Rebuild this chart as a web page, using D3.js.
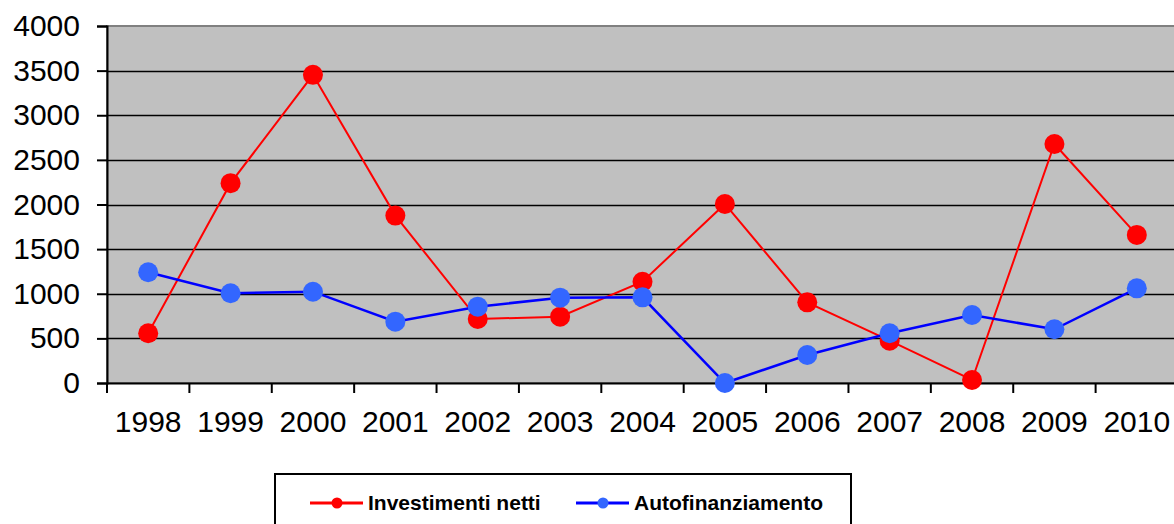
<!DOCTYPE html>
<html>
<head>
<meta charset="utf-8">
<script src="https://cdn.jsdelivr.net/npm/d3@7"></script>
<style>
  body { margin: 0; background: #fff; }
  svg { display: block; font-family: "Liberation Sans", Arial, sans-serif; }
</style>
</head>
<body>
<svg id="chart"></svg>
<script>
// Data

const years = ["1998", "1999", "2000", "2001", "2002", "2003", "2004",
               "2005", "2006", "2007", "2008", "2009", "2010"];
const investimenti = [557, 2239, 3453, 1876, 717, 743, 1135, 2006, 904, 474, 34, 2678, 1659];
const autofinanziamento = [1241, 1005, 1023, 687, 855, 956, 960, 0, 314, 557, 762, 602, 1061];
const yTicks = [0, 500, 1000, 1500, 2000, 2500, 3000, 3500, 4000];
const seriesNames = ["Investimenti netti", "Autofinanziamento"];

// Frame

const width = 1174;
const height = 524;
const plot = { left: 107, right: 1178, top: 26, bottom: 383 };

const svg = d3.select("#chart")
  .attr("width", width)
  .attr("height", height);

const x = d3.scaleBand()
  .domain(years)
  .range([plot.left, plot.right]);

const y = d3.scaleLinear()
  .domain([0, 4000])
  .range([plot.bottom, plot.top]);

// Plot background

svg.append("rect")
  .attr("x", plot.left)
  .attr("y", plot.top)
  .attr("width", plot.right - plot.left)
  .attr("height", plot.bottom - plot.top)
  .attr("fill", "#c0c0c0")
  .attr("stroke", "#808080")
  .attr("stroke-width", 2);

// Gridlines

svg.append("g").selectAll("line")
  .data(yTicks.filter(d => d > 0 && d < 4000))
  .enter()
  .append("line")
  .attr("x1", plot.left)
  .attr("x2", plot.right)
  .attr("y1", d => Math.round(y(d)) + 0.5)
  .attr("y2", d => Math.round(y(d)) + 0.5)
  .attr("stroke", "#000")
  .attr("stroke-width", 1.3);

// Y axis

const yAxis = svg.append("g")
  .attr("transform", "translate(" + plot.left + ",0)")
  .call(d3.axisLeft(y).tickValues(yTicks).tickFormat(d3.format("d")).tickSize(10).tickPadding(17));

yAxis.select(".domain").attr("stroke", "#000").attr("stroke-width", 2);
yAxis.selectAll(".tick line").attr("stroke", "#000").attr("stroke-width", 2);
yAxis.selectAll("text")
  .attr("font-family", "'Liberation Sans', Arial, sans-serif")
  .attr("font-size", 30)
  .attr("fill", "#000");

// X axis

const xAxis = svg.append("g")
  .attr("transform", "translate(0," + plot.bottom + ")")
  .call(d3.axisBottom(x).tickSize(0).tickPadding(28));

xAxis.select(".domain").attr("stroke", "#000").attr("stroke-width", 2);
xAxis.selectAll("text")
  .attr("font-family", "'Liberation Sans', Arial, sans-serif")
  .attr("font-size", 30)
  .attr("fill", "#000");

// tick marks sit between the categories
xAxis.append("g").selectAll("line")
  .data(years)
  .enter()
  .append("line")
  .attr("x1", d => x(d))
  .attr("x2", d => x(d))
  .attr("y1", 0)
  .attr("y2", 10)
  .attr("stroke", "#000")
  .attr("stroke-width", 2);

// Series

const series = [
  { name: seriesNames[0], values: investimenti, line: "#ff0000", dot: "#ff0000", width: 2 },
  { name: seriesNames[1], values: autofinanziamento, line: "#0000ff", dot: "#3366ff", width: 2.5 }
];

const lineGen = d3.line()
  .x((d, i) => x(years[i]) + x.bandwidth() / 2)
  .y(d => y(d));

series.forEach(s => {
  svg.append("path")
    .datum(s.values)
    .attr("d", lineGen)
    .attr("fill", "none")
    .attr("stroke", s.line)
    .attr("stroke-width", s.width);

  svg.append("g").selectAll("circle")
    .data(s.values)
    .enter()
    .append("circle")
    .attr("cx", (d, i) => x(years[i]) + x.bandwidth() / 2)
    .attr("cy", d => y(d))
    .attr("r", 10)
    .attr("fill", s.dot);
});

// Legend

const legend = svg.append("g");

legend.append("rect")
  .attr("x", 275)
  .attr("y", 474)
  .attr("width", 576)
  .attr("height", 70)
  .attr("fill", "#fff")
  .attr("stroke", "#000")
  .attr("stroke-width", 2);

const legendItems = [
  { x: 310, s: series[0] },
  { x: 576, s: series[1] }
];

legendItems.forEach(item => {
  legend.append("line")
    .attr("x1", item.x)
    .attr("x2", item.x + 53)
    .attr("y1", 503)
    .attr("y2", 503)
    .attr("stroke", item.s.line)
    .attr("stroke-width", 3);
  legend.append("circle")
    .attr("cx", item.x + 27)
    .attr("cy", 503)
    .attr("r", 5.5)
    .attr("fill", item.s.dot);
  legend.append("text")
    .attr("x", item.x + 58)
    .attr("y", 510)
    .attr("font-size", 21)
    .attr("font-weight", "bold")
    .attr("fill", "#000")
    .text(item.s.name);
});
</script>
</body>
</html>
